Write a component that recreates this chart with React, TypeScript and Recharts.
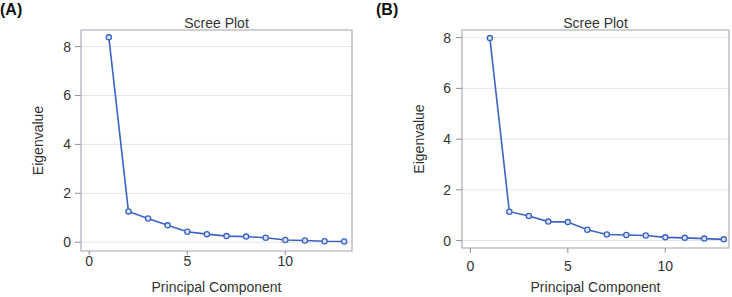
import { FC } from 'react';
import { LineChart, Line, XAxis, YAxis, CartesianGrid, ReferenceArea, Label } from 'recharts';

const components = [1, 2, 3, 4, 5, 6, 7, 8, 9, 10, 11, 12, 13];
const eigenA = [8.38, 1.26, 0.97, 0.69, 0.43, 0.33, 0.25, 0.23, 0.18, 0.09, 0.07, 0.04, 0.03];
const eigenB = [7.98, 1.14, 0.97, 0.75, 0.73, 0.43, 0.24, 0.22, 0.2, 0.13, 0.11, 0.08, 0.05];
const xTicks = [0, 5, 10];
const yTicks = [0, 2, 4, 6, 8];

const BLUE = '#3d62c6';
const FRAME = '#a9afba';
const TEXT = '#333';
const FONT = '"Liberation Sans", Arial, sans-serif';

type PanelProps = {
  tag: string;
  values: number[];
  left: number;
  xDomain: [number, number];
  yDomain: [number, number];
  yAxisWidth: number;
  rightMargin: number;
  xAxisHeight: number;
  xTickSize: number;
  xTickMargin: number;
  yTickMargin: number;
  yLabelX: number;
  tagLeft: number;
};

const Panel: FC<PanelProps> = (p) => {
  const data = components.map((pc, i) => ({ pc, eigen: p.values[i] }));
  const plotLeft = p.yAxisWidth;
  const plotWidth = 366 - p.yAxisWidth - p.rightMargin;

  return (
    <div style={{ position: 'absolute', left: p.left, top: 0, width: 366, height: 297 }}>
      <div
        style={{
          position: 'absolute',
          left: p.tagLeft,
          top: 2,
          fontSize: 16,
          lineHeight: '16px',
          fontWeight: 'bold',
          fontFamily: FONT,
          color: '#111',
        }}
      >
        {p.tag}
      </div>
      <div
        style={{
          position: 'absolute',
          left: plotLeft,
          width: plotWidth,
          top: 16,
          fontSize: 14,
          lineHeight: '14px',
          textAlign: 'center',
          fontFamily: FONT,
          color: TEXT,
        }}
      >
        Scree Plot
      </div>
      <LineChart
        width={366}
        height={297}
        data={data}
        margin={{ top: 30, right: p.rightMargin, bottom: 0, left: 0 }}
        style={{ fontFamily: FONT }}
      >
        <CartesianGrid vertical={false} stroke="#e4e5ea" />
        <XAxis
          dataKey="pc"
          type="number"
          domain={p.xDomain}
          ticks={xTicks}
          allowDataOverflow
          height={p.xAxisHeight}
          axisLine={false}
          tickLine={{ stroke: '#8a8f99' }}
          tickSize={p.xTickSize}
          tickMargin={p.xTickMargin}
          tick={{ fontSize: 14, fill: TEXT }}
        >
          <Label
            value="Principal Component"
            position="insideBottom"
            offset={5}
            style={{ fontSize: 14, fill: TEXT }}
          />
        </XAxis>
        <YAxis
          type="number"
          domain={p.yDomain}
          ticks={yTicks}
          allowDataOverflow
          width={p.yAxisWidth}
          axisLine={false}
          tickLine={{ stroke: '#8a8f99' }}
          tickSize={6}
          tickMargin={p.yTickMargin}
          tick={{ fontSize: 14, fill: TEXT }}
        >
          <Label
            value="Eigenvalue"
            angle={-90}
            position="insideLeft"
            offset={p.yLabelX}
            style={{ fontSize: 14, fill: TEXT, textAnchor: 'middle' }}
          />
        </YAxis>
        <ReferenceArea
          x1={p.xDomain[0]}
          x2={p.xDomain[1]}
          y1={p.yDomain[0]}
          y2={p.yDomain[1]}
          fill="none"
          stroke={FRAME}
          strokeWidth={1.2}
          ifOverflow="visible"
        />
        <Line
          type="linear"
          dataKey="eigen"
          stroke={BLUE}
          strokeWidth={1.6}
          dot={{ r: 2.6, stroke: BLUE, strokeWidth: 1.3, fill: '#dbe3f6' }}
          activeDot={false}
          isAnimationActive={false}
        />
      </LineChart>
    </div>
  );
};

export default function App() {
  return (
    <div style={{ position: 'absolute', left: 0, top: 0, width: 732, height: 297, background: '#fff' }}>
      <Panel
        tag="(A)"
        values={eigenA}
        left={0}
        xDomain={[-0.42, 13.4]}
        yDomain={[-0.36, 8.68]}
        yAxisWidth={81}
        rightMargin={14}
        xAxisHeight={46}
        xTickSize={4}
        xTickMargin={1}
        yTickMargin={4}
        yLabelX={38}
        tagLeft={0}
      />
      <Panel
        tag="(B)"
        values={eigenB}
        left={366}
        xDomain={[-0.43, 13.27]}
        yDomain={[-0.29, 8.3]}
        yAxisWidth={96}
        rightMargin={3}
        xAxisHeight={49}
        xTickSize={5}
        xTickMargin={8}
        yTickMargin={5}
        yLabelX={53}
        tagLeft={10}
      />
    </div>
  );
}
